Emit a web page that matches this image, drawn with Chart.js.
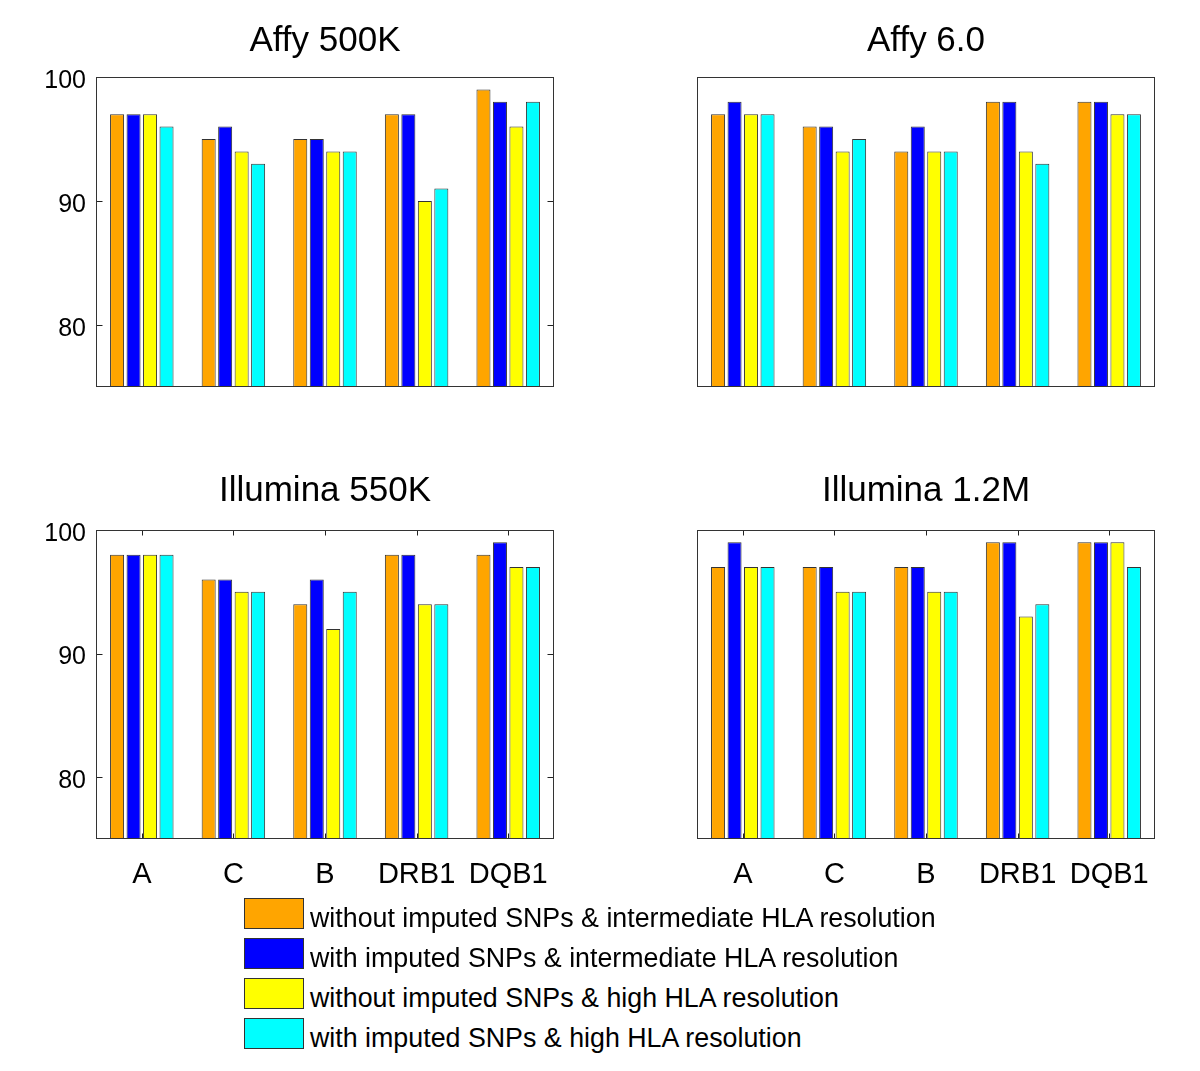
<!DOCTYPE html>
<html>
<head>
<meta charset="utf-8">
<script src="https://cdn.jsdelivr.net/npm/chart.js@4.4.1/dist/chart.umd.min.js"></script>
<style>
html,body{margin:0;padding:0;background:#fff;width:1200px;height:1071px;overflow:hidden;}
canvas{position:absolute;display:block;}
.lbox{position:absolute;left:244px;width:60px;height:31px;box-sizing:border-box;border:1px solid #333;}
.ltxt{position:absolute;left:310px;font-family:"Liberation Sans",Arial,sans-serif;font-size:26.8px;line-height:30px;color:#000;white-space:nowrap;}
</style>
</head>
<body>
<canvas id="c1" width="598" height="390" style="left:26px;top:0px"></canvas>
<canvas id="c2" width="598" height="390" style="left:627px;top:0px"></canvas>
<canvas id="c3" width="598" height="446" style="left:26px;top:453px"></canvas>
<canvas id="c4" width="598" height="446" style="left:627px;top:453px"></canvas>
<div id="legend"></div>
<script>
// ---- data ----
const categories = ['A', 'C', 'B', 'DRB1', 'DQB1'];
const seriesLabels = [
  'without imputed SNPs & intermediate HLA resolution',
  'with imputed SNPs & intermediate HLA resolution',
  'without imputed SNPs & high HLA resolution',
  'with imputed SNPs & high HLA resolution'
];
const seriesColors = ['#FFA500', '#0000FF', '#FFFF00', '#00FFFF'];
const yTickValues = [80, 90, 100];
const panelTitles = ['Affy 500K', 'Affy 6.0', 'Illumina 550K', 'Illumina 1.2M'];

const affy500K_noImpInter = [97, 95, 95, 97, 99];
const affy500K_impInter   = [97, 96, 95, 97, 98];
const affy500K_noImpHigh  = [97, 94, 94, 90, 96];
const affy500K_impHigh    = [96, 93, 94, 91, 98];

const affy6_noImpInter = [97, 96, 94, 98, 98];
const affy6_impInter   = [98, 96, 96, 98, 98];
const affy6_noImpHigh  = [97, 94, 94, 94, 97];
const affy6_impHigh    = [97, 95, 94, 93, 97];

const illu550K_noImpInter = [98, 96, 94, 98, 98];
const illu550K_impInter   = [98, 96, 96, 98, 99];
const illu550K_noImpHigh  = [98, 95, 92, 94, 97];
const illu550K_impHigh    = [98, 95, 95, 94, 97];

const illu12M_noImpInter = [97, 97, 97, 99, 99];
const illu12M_impInter   = [99, 97, 97, 99, 99];
const illu12M_noImpHigh  = [97, 95, 95, 93, 99];
const illu12M_impHigh    = [97, 95, 95, 94, 97];

// ---- rendering ----
const FONT = '"Liberation Sans", Arial, sans-serif';

const boxPlugin = {
  id: 'matBox',
  afterDatasetsDraw(chart, args, opts) {
    const {ctx, chartArea: a, scales} = chart;
    const x = scales.x, y = scales.y;
    ctx.save();
    ctx.strokeStyle = '#222';
    ctx.lineWidth = 1;
    const L = Math.round(a.left) + 0.5, R = Math.round(a.right) - 0.5;
    const T = Math.round(a.top) + 0.5, B = Math.round(a.bottom) - 0.5;
    ctx.beginPath();
    if (opts.yTicks) {
      yTickValues.forEach(v => {
        const py = Math.round(y.getPixelForValue(v)) + 0.5;
        ctx.moveTo(L, py); ctx.lineTo(L + 6, py);
        ctx.moveTo(R, py); ctx.lineTo(R - 6, py);
      });
    }
    if (opts.xTicks) {
      categories.forEach((c, i) => {
        const px = Math.round(x.getPixelForValue(i)) + 0.5;
        ctx.moveTo(px, B); ctx.lineTo(px, B - 5);
        ctx.moveTo(px, T); ctx.lineTo(px, T + 5);
      });
    }
    ctx.stroke();
    ctx.strokeStyle = '#333';
    ctx.strokeRect(L, T, R - L, B - T);
    ctx.restore();
  }
};

function makePanel(id, title, s1, s2, s3, s4, showY, showX, titlePad) {
  const data = [s1, s2, s3, s4];
  return new Chart(document.getElementById(id), {
    type: 'bar',
    data: {
      labels: categories,
      datasets: data.map((d, i) => ({
        label: seriesLabels[i],
        data: d,
        backgroundColor: seriesColors[i],
        borderColor: '#333',
        borderWidth: 1,
        borderSkipped: false,
        categoryPercentage: 0.72,
        barPercentage: 0.85
      }))
    },
    options: {
      responsive: false,
      animation: false,
      devicePixelRatio: 1,
      events: [],
      layout: {
        padding: {left: 0, right: 0, top: 0, bottom: showX ? 0 : 3}
      },
      plugins: {
        legend: {display: false},
        tooltip: {enabled: false},
        title: {
          display: true,
          text: title,
          color: '#000',
          font: {family: FONT, size: 35, weight: 'normal', lineHeight: 1.2},
          padding: titlePad
        },
        matBox: {yTicks: showY, xTicks: showX}
      },
      scales: {
        x: {
          display: true,
          grid: {display: false, drawTicks: false},
          border: {display: false},
          ticks: {
            display: showX,
            color: '#000',
            font: {family: FONT, size: 29},
            padding: 19,
            maxRotation: 0,
            autoSkip: false
          },
          afterFit(s) { s.height = showX ? 60 : 0; s.paddingLeft = 0; s.paddingRight = 0; }
        },
        y: {
          display: true,
          position: 'left',
          min: 75,
          max: 100,
          grid: {display: false, drawTicks: false},
          border: {display: false},
          afterBuildTicks(s) { s.ticks = yTickValues.map(v => ({value: v})); },
          ticks: {
            display: showY,
            color: '#000',
            font: {family: FONT, size: 25},
            padding: 10,
            labelOffset: 4
          },
          afterFit(s) { s.width = 70; s.paddingTop = 0; s.paddingBottom = 0; }
        },
        yRight: {
          display: true,
          position: 'right',
          min: 75,
          max: 100,
          grid: {display: false, drawTicks: false},
          border: {display: false},
          ticks: {display: false},
          afterFit(s) { s.width = 70; s.paddingTop = 0; s.paddingBottom = 0; }
        }
      }
    },
    plugins: [boxPlugin]
  });
}

makePanel('c1', panelTitles[0], affy500K_noImpInter, affy500K_impInter, affy500K_noImpHigh, affy500K_impHigh, true, false, {top: 20, bottom: 15});
makePanel('c2', panelTitles[1], affy6_noImpInter, affy6_impInter, affy6_noImpHigh, affy6_impHigh, false, false, {top: 20, bottom: 15});
makePanel('c3', panelTitles[2], illu550K_noImpInter, illu550K_impInter, illu550K_noImpHigh, illu550K_impHigh, true, true, {top: 17, bottom: 18});
makePanel('c4', panelTitles[3], illu12M_noImpInter, illu12M_impInter, illu12M_noImpHigh, illu12M_impHigh, false, true, {top: 17, bottom: 18});

// legend
const legend = document.getElementById('legend');
seriesLabels.forEach((lab, i) => {
  const box = document.createElement('div');
  box.className = 'lbox';
  box.style.top = (898 + 40 * i) + 'px';
  box.style.background = seriesColors[i];
  legend.appendChild(box);
  const t = document.createElement('div');
  t.className = 'ltxt';
  t.style.top = (903 + 40 * i) + 'px';
  t.textContent = lab;
  legend.appendChild(t);
});
</script>
</body>
</html>
